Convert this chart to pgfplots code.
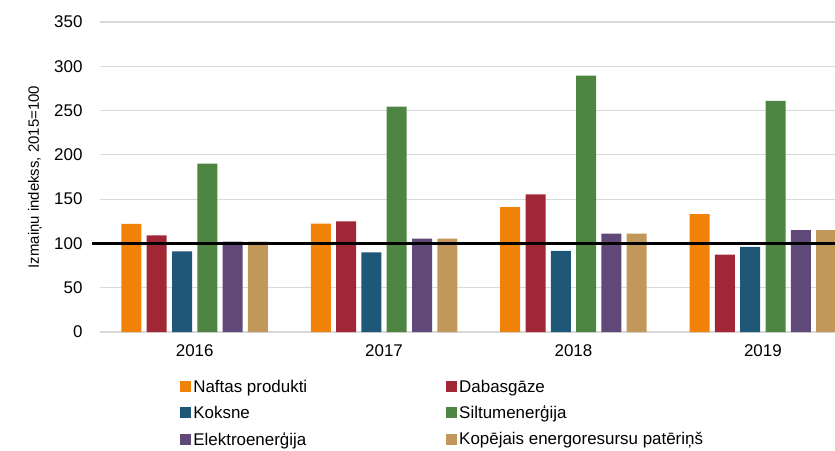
\documentclass[border=0pt]{standalone}
\usepackage{pgfplots}
\pgfplotsset{compat=1.18}
\usepackage{fontspec}
\setmainfont{Liberation Sans}
\definecolor{cOrange}{HTML}{F0820A}
\definecolor{cRed}{HTML}{A22736}
\definecolor{cBlue}{HTML}{1F5779}
\definecolor{cGreen}{HTML}{4E8542}
\definecolor{cPurple}{HTML}{604878}
\definecolor{cTan}{HTML}{C2975A}
\definecolor{gridgray}{HTML}{D9D9D9}
\begin{document}
\begin{tikzpicture}
\path[use as bounding box] (0,0) rectangle (835bp,451bp);
\begin{axis}[
  at={(100bp,119bp)}, anchor=south west,
  scale only axis, width=735bp, height=310bp,
  xmin=-0.5, xmax=3.381, ymin=0, ymax=350,
  ybar=5.3bp, bar width=20bp,
  xtick={0,1,2,3}, xticklabels={2016,2017,2018,2019},
  ytick={0,50,100,150,200,250,300,350},
  ymajorgrids, grid style={color=gridgray, line width=1.2bp},
  axis line style={draw=none}, major tick length=0pt,
  tick label style={font=\fontsize{17}{19}\selectfont},
  /pgf/number format/assume math mode=true,
  yticklabel style={xshift=-14bp},
  xticklabel style={yshift=-9bp},
  ylabel={Izmaiņu indekss, 2015=100},
  ylabel style={at={(axis description cs:-0.0884,0.5)}, anchor=center, font=\fontsize{15}{17}\selectfont},
  clip=false,
  legend columns=2,
  legend cell align=left,
  legend image code/.code={\fill[#1,draw=none] (-1bp,-5.5bp) rectangle (10bp,5.5bp);},
  legend style={at={(axis description cs:0.105,-0.141)}, anchor=north west, draw=none, fill=none,
    font=\fontsize{17}{19}\selectfont, row sep=8bp,
    /tikz/every even column/.append style={column sep=137bp}},
]
\addplot[fill=cOrange, draw=none] coordinates {(0,122) (1,122.5) (2,141) (3,133)};
\addplot[fill=cRed, draw=none] coordinates {(0,109) (1,125) (2,155.5) (3,87.5)};
\addplot[fill=cBlue, draw=none] coordinates {(0,91) (1,90) (2,91.5) (3,96)};
\addplot[fill=cGreen, draw=none] coordinates {(0,190) (1,254.5) (2,289.5) (3,261)};
\addplot[fill=cPurple, draw=none] coordinates {(0,102) (1,105.5) (2,111) (3,115)};
\addplot[fill=cTan, draw=none] coordinates {(0,102) (1,105.5) (2,111) (3,115)};
\legend{Naftas produkti, Dabasgāze, Koksne, Siltumenerģija, Elektroenerģija, Kopējais energoresursu patēriņš}
\addplot[sharp plot, black, line width=2.6bp, forget plot] coordinates {(-0.542,100) (3.45,100)};
\end{axis}
\end{tikzpicture}
\end{document}
